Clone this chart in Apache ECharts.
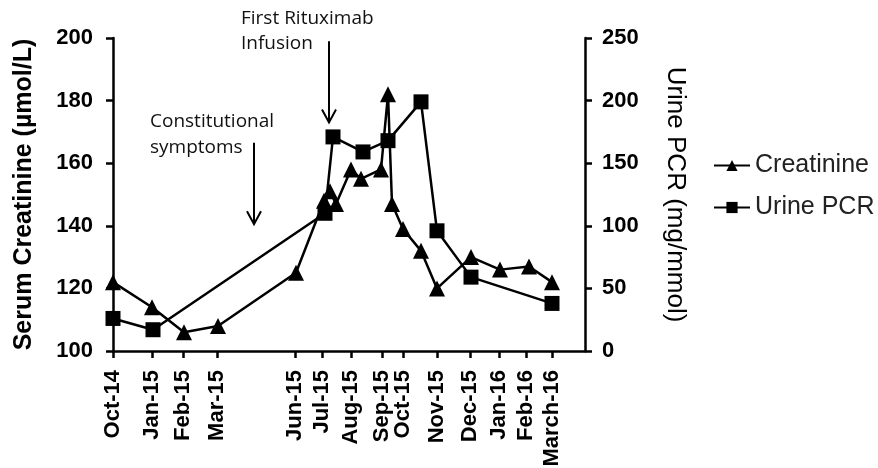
<!DOCTYPE html>
<html><head><meta charset="utf-8">
<script src="https://cdn.jsdelivr.net/npm/echarts@6/dist/echarts.min.js"></script>
<style>html,body{margin:0;padding:0;background:#fff}#c{width:878px;height:468px}</style>
</head><body><div id="c"></div>
<script>
// x positions are in the chart's own (non-uniform) timeline units
const tickLabels = ['Oct-14','Jan-15','Feb-15','Mar-15','Jun-15','Jul-15','Aug-15','Sep-15','Oct-15','Nov-15','Dec-15','Jan-16','Feb-16','March-16'];
const tickPos    = [0, 3.9, 7.0, 10.4, 18.2, 20.9, 23.8, 26.9, 29.0, 32.4, 35.7, 38.6, 41.3, 43.9];
const xMax = 47.2;

const creatX = [0, 3.9, 7.1, 10.5, 18.3, 21.1, 21.7, 22.3, 23.8, 24.8, 26.8, 27.5, 27.9, 29.0, 30.8, 32.4, 35.8, 38.7, 41.6, 43.9];
const creatY = [122, 114, 106, 108, 125, 148, 151, 147, 158, 155, 158, 182, 147, 139, 132, 120, 130, 126, 127, 122];

const pcrX = [0, 4.0, 21.2, 22.0, 25.0, 27.5, 30.8, 32.4, 35.8, 43.9];
const pcrY = [26, 17, 110, 171, 159, 168, 199, 96, 59, 38];

// annotations: [x, yTop, yTip] on left axis scale
const rituxArrow = [21.6, 199, 173];
const constArrow = [14.1, 166.5, 140.5];

const chart = echarts.init(document.getElementById('c'));
const BLACK = '#000';
const axisFont = 'Liberation Sans, Arial, sans-serif';

function nearestLabel(v){
  let best = -1, bd = 1e9;
  tickPos.forEach((p,i)=>{ const d=Math.abs(p-v); if(d<bd){bd=d;best=i;} });
  return bd < 0.05 ? tickLabels[best] : '';
}

chart.setOption({
  animation: false,
  backgroundColor: '#fff',
  grid: { left: 113, right: 293, top: 38, bottom: 117, containLabel: false, outerBoundsMode: 'none' },
  legend: {
    orient: 'vertical', left: 708, top: 148, itemWidth: 36, itemHeight: 14, itemGap: 17,
    data: ['Creatinine', 'Urine PCR'],
    textStyle: { fontFamily: axisFont, fontSize: 25, color: '#222' }
  },
  xAxis: {
    type: 'value', min: 0, max: xMax,
    axisLine: { lineStyle: { color: BLACK, width: 2.5 } },
    axisTick: { customValues: tickPos, length: 7, lineStyle: { color: BLACK, width: 2.5 } },
    axisLabel: { customValues: tickPos, rotate: 90, margin: 19, formatter: nearestLabel,
      fontFamily: axisFont, fontWeight: 'bold', fontSize: 22, color: BLACK },
    splitLine: { show: false }
  },
  yAxis: [{
    type: 'value', min: 100, max: 200, interval: 20,
    name: 'Serum Creatinine (µmol/L)', nameLocation: 'middle', nameGap: 76,
    nameTextStyle: { fontFamily: axisFont, fontWeight: 'bold', fontSize: 25, color: BLACK },
    axisLine: { show: true, lineStyle: { color: BLACK, width: 2.5 } },
    axisTick: { show: true, length: 7, lineStyle: { color: BLACK, width: 2.5 } },
    axisLabel: { margin: 20, fontFamily: axisFont, fontWeight: 'bold', fontSize: 22, color: BLACK },
    splitLine: { show: false }
  }, {
    type: 'value', min: 0, max: 250, interval: 50, position: 'right',
    name: 'Urine PCR (mg/mmol)', nameLocation: 'middle', nameGap: 77, nameRotate: -90,
    nameTextStyle: { fontFamily: axisFont, fontSize: 26, color: BLACK },
    axisLine: { show: true, lineStyle: { color: BLACK, width: 2.5 } },
    axisTick: { show: true, length: 7, lineStyle: { color: BLACK, width: 2.5 } },
    axisLabel: { margin: 17, fontFamily: axisFont, fontWeight: 'bold', fontSize: 22, color: BLACK },
    splitLine: { show: false }
  }],
  series: [{
    name: 'Creatinine', type: 'line', yAxisIndex: 0,
    symbol: 'triangle', symbolSize: 16,
    itemStyle: { color: BLACK }, lineStyle: { color: BLACK, width: 2.5 },
    data: creatX.map((x,i)=>[x, creatY[i]])
  }, {
    name: 'Urine PCR', type: 'line', yAxisIndex: 1,
    symbol: 'rect', symbolSize: 15,
    itemStyle: { color: BLACK }, lineStyle: { color: BLACK, width: 2.5 },
    data: pcrX.map((x,i)=>[x, pcrY[i]])
  }]
});

function arrow(a){
  const p1 = chart.convertToPixel({xAxisIndex:0, yAxisIndex:0}, [a[0], a[1]]);
  const p2 = chart.convertToPixel({xAxisIndex:0, yAxisIndex:0}, [a[0], a[2]]);
  return [
    { type:'line', shape:{x1:p1[0], y1:p1[1], x2:p2[0], y2:p2[1]}, style:{stroke:BLACK, lineWidth:2} },
    { type:'polyline', shape:{points:[[p2[0]-7,p2[1]-13],[p2[0],p2[1]],[p2[0]+7,p2[1]-13]]}, style:{stroke:BLACK, lineWidth:2, fill:null} }
  ];
}
const annFont = '19px "Open Sans", sans-serif';
const r1 = chart.convertToPixel({xAxisIndex:0, yAxisIndex:0}, [rituxArrow[0], rituxArrow[1]]);
const c1 = chart.convertToPixel({xAxisIndex:0, yAxisIndex:0}, [constArrow[0], constArrow[1]]);
chart.setOption({
  graphic: [
    ...arrow(rituxArrow), ...arrow(constArrow),
    { type:'text', x: r1[0]-88, y: r1[1]-35, style:{ text:'First Rituximab\nInfusion', font: annFont, lineHeight: 25, fill:'#111', textVerticalAlign:'top' } },
    { type:'text', x: c1[0]-104, y: c1[1]-34, style:{ text:'Constitutional\nsymptoms', font: annFont, lineHeight: 26, fill:'#111', textVerticalAlign:'top' } }
  ]
});
</script>
</body></html>
